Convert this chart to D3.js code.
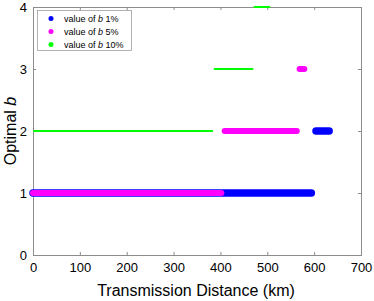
<!DOCTYPE html>
<html>
<head>
<meta charset="utf-8">
<script src="https://cdn.jsdelivr.net/npm/d3@7"></script>
<style>
  body{margin:0;background:#fff;}
  text{font-family:"Liberation Sans",Arial,Helvetica,sans-serif;}
</style>
</head>
<body>
<svg id="chart" width="374" height="301"></svg>
<script>
'use strict';

// runs of constant optimal b: [from km, to km, b]
var runs1=[[0,594,1],[604,632,2]]
  , runs5=[[0,402,1],[409,563,2],[569,579,3]]
  , runs10=[[0,384,2],[386,470,3],[471,506,4]]
  , seriesName='value of '
  , seriesPct=['1%','5%','10%']
  , seriesColors=['#0000ff','#ff00ff','#00ff00']
  , xTicks=[0,100,200,300,400,500,600,700]
  , yTicks=[0,1,2,3,4]

var svg=d3.select('#chart')
  , m={l:33,r:13,t:7,b:46}
  , W=374-m.l-m.r
  , H=301-m.t-m.b
  , g=svg.append('g').attr('transform','translate('+m.l+','+m.t+')')
  , x=d3.scaleLinear().domain([0,700]).range([0,W])
  , y=d3.scaleLinear().domain([0,4]).range([H,0])
  , axisColor='#8c8c8c'
  , fmt=d3.format('d')

// box + inward ticks
g.append('rect')
    .attr('x',0.5).attr('y',0.5)
    .attr('width',W).attr('height',H)
    .attr('fill','none').attr('stroke',axisColor).attr('stroke-width',1);

var ax=[
    [d3.axisBottom(x).tickValues(xTicks).tickFormat(fmt),'translate(0,'+H+')']
  , [d3.axisTop(x).tickValues(xTicks).tickFormat(''),'translate(0,0)']
  , [d3.axisLeft(y).tickValues(yTicks).tickFormat(fmt),'translate(0,0)']
  , [d3.axisRight(y).tickValues(yTicks).tickFormat(''),'translate('+W+',0)']
];
ax.forEach(function(a,i){
    a[0].tickSizeInner(-3).tickSizeOuter(0);
    var s=g.append('g').attr('transform',a[1]).call(a[0]);
    s.select('.domain').remove();
    s.selectAll('line').attr('stroke',axisColor);
    s.selectAll('text')
        .attr('fill','#000')
        .style('font-size','13px');
    if(i==0) s.selectAll('text').attr('y',8);
    if(i==2) s.selectAll('text').attr('x',-6);
});

// data runs drawn as dense marker lines
var lineSets=[
    {runs:runs1,color:seriesColors[0],w:7.5}
  , {runs:runs5,color:seriesColors[1],w:6}
  , {runs:runs10,color:seriesColors[2],w:2}
];
lineSets.forEach(function(s){
    g.append('g').selectAll('line').data(s.runs).enter().append('line')
        .attr('x1',function(d){return x(d[0]);})
        .attr('x2',function(d){return x(d[1]);})
        .attr('y1',function(d){return y(d[2]);})
        .attr('y2',function(d){return y(d[2]);})
        .attr('stroke',s.color)
        .attr('stroke-width',s.w)
        .attr('stroke-linecap',s.w>3?'round':'butt');
});

// axis titles
svg.append('text')
    .attr('x',m.l+W/2-1).attr('y',296)
    .attr('text-anchor','middle')
    .style('font-size','16px')
    .text('Transmission Distance (km)');
var yl=svg.append('text')
    .attr('transform','translate(16,'+(m.t+H/2)+') rotate(-90)')
    .attr('text-anchor','middle')
    .style('font-size','16px');
yl.append('tspan').text('Optimal ');
yl.append('tspan').style('font-style','italic').text('b');

// legend
var lg=svg.append('g').attr('transform','translate(37,10)');
lg.append('rect')
    .attr('x',0.5).attr('y',0.5).attr('width',94).attr('height',40)
    .attr('fill','#fff').attr('stroke','#a0a0a0').attr('stroke-width',0.8);
seriesPct.forEach(function(p,i){
    var row=lg.append('g').attr('transform','translate(0,'+(8.5+i*13)+')');
    row.append('circle').attr('cx',14).attr('cy',0).attr('r',2.5).attr('fill',seriesColors[i]);
    var t=row.append('text').attr('x',27).attr('y',3.2).style('font-size','9px');
    t.append('tspan').text(seriesName);
    t.append('tspan').style('font-style','italic').text('b');
    t.append('tspan').text(' '+p);
});
</script>
</body>
</html>
